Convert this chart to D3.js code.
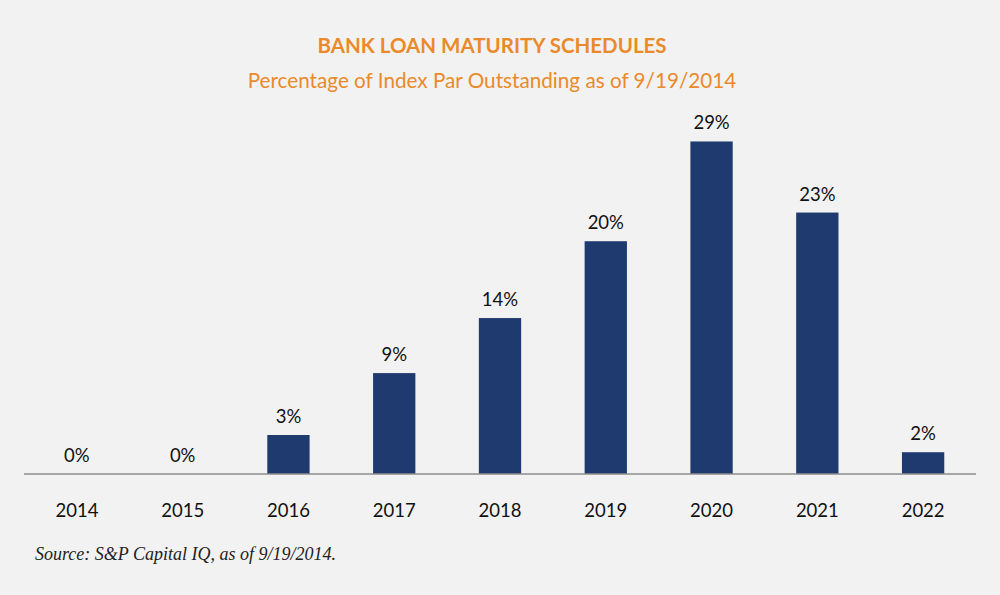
<!DOCTYPE html>
<html>
<head>
<meta charset="utf-8">
<script src="https://cdn.jsdelivr.net/npm/d3@7"></script>
<style>
  html, body { margin: 0; padding: 0; background: #f2f2f2; }
  svg { display: block; }
</style>
</head>
<body>
<script>
const years = ["2014", "2015", "2016", "2017", "2018", "2019", "2020", "2021", "2022"];
const values = [0, 0, 3.4, 8.8, 13.6, 20.3, 29.0, 22.8, 1.9];
const labels = ["0%", "0%", "3%", "9%", "14%", "20%", "29%", "23%", "2%"];
const titleText = "BANK LOAN MATURITY SCHEDULES";
const subtitleText = "Percentage of Index Par Outstanding as of 9/19/2014";
const sourceText = "Source: S&P Capital IQ, as of 9/19/2014.";

const W = 1000, H = 595;
const svg = d3.select("body").append("svg").attr("width", W).attr("height", H);
svg.append("rect").attr("width", W).attr("height", H).attr("fill", "#f2f2f2");

const orange = "#ea8a2a";
const navy = "#1f3a6f";

svg.append("text").attr("x", 492).attr("y", 53).attr("text-anchor", "middle")
  .attr("font-family", "Lato, sans-serif").attr("font-weight", "bold").attr("font-size", 20.5)
  .attr("fill", orange).text(titleText);
svg.append("text").attr("x", 492).attr("y", 88).attr("text-anchor", "middle")
  .attr("font-family", "Lato, sans-serif").attr("font-size", 20.7)
  .attr("fill", orange).text(subtitleText);

const x = d3.scaleBand().domain(years).range([24, 976]).paddingInner(0.6).paddingOuter(0.3);
const y = d3.scaleLinear().domain([0, 30]).range([474, 130]);

const data = years.map((yr, i) => ({ year: yr, value: values[i], label: labels[i] }));

svg.selectAll("rect.bar").data(data).enter().append("rect").attr("class", "bar")
  .attr("x", d => x(d.year)).attr("width", x.bandwidth())
  .attr("y", d => y(d.value)).attr("height", d => y(0) - y(d.value))
  .attr("fill", navy);

svg.append("line").attr("x1", 24).attr("x2", 976).attr("y1", y(0)).attr("y2", y(0))
  .attr("stroke", "#8c8c8c").attr("stroke-width", 1.5);

svg.selectAll("text.val").data(data).enter().append("text").attr("class", "val")
  .attr("x", d => x(d.year) + x.bandwidth() / 2).attr("y", d => y(d.value) - 12)
  .attr("text-anchor", "middle").attr("font-family", "Lato, sans-serif").attr("font-size", 18.5)
  .attr("fill", "#111").text(d => d.label);

const xAxis = svg.append("g").attr("transform", `translate(0,${y(0)})`)
  .call(d3.axisBottom(x).tickSize(0).tickPadding(0));
xAxis.select(".domain").remove();
xAxis.selectAll("text").attr("dy", null).attr("y", 43)
  .attr("font-family", "Lato, sans-serif").attr("font-size", 18.5).attr("fill", "#111");

svg.append("text").attr("x", 35).attr("y", 560)
  .attr("font-family", "'Liberation Serif', serif").attr("font-style", "italic").attr("font-size", 18)
  .attr("fill", "#222").text(sourceText);
</script>
</body>
</html>
